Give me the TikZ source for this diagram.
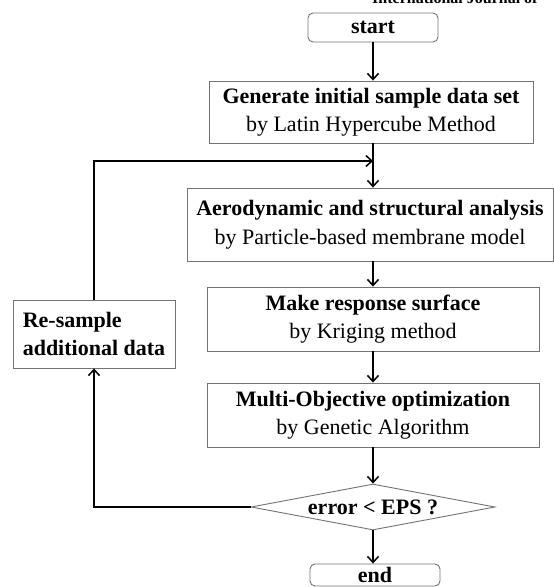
\documentclass[tikz,border=0pt]{standalone}
\usepackage{fontspec}
\setmainfont{Liberation Serif}
\usetikzlibrary{shapes.geometric,arrows.meta}
\begin{document}
\begin{tikzpicture}[x=1pt,y=-1pt,
  box/.style={draw=black!55,line width=0.9pt,fill=white,align=center,inner sep=0pt,font=\fontsize{22}{28.5}\selectfont},
  term/.style={box,rounded corners=5pt},
  decision/.style={box,diamond,aspect=5.3},
  flow/.style={line width=1.7pt,-{Straight Barb[length=6pt,width=11pt,line width=1.5pt]}},
  header/.style={font=\fontsize{16}{18}\selectfont\bfseries,anchor=base west,inner sep=0pt}
]
\clip (0,0) rectangle (554,587);
\useasboundingbox (0,0) rectangle (554,587);

\node[header] (hdr) at (372,3) {International Journal of};

\node[term,minimum width=130pt,minimum height=29pt] (start) at (373,27.5) {\textbf{start}};
\node[box,minimum width=324pt,minimum height=62pt] (gen) at (371,112)
  {\textbf{Generate initial sample data set}\\by Latin Hypercube Method};
\node[box,minimum width=366pt,minimum height=73pt] (aero) at (370,224.5)
  {\textbf{Aerodynamic and structural analysis}\\by Particle-based membrane model};
\node[box,minimum width=332pt,minimum height=64pt] (make) at (373,319)
  {\textbf{Make response surface}\\by Kriging method};
\node[box,minimum width=332pt,minimum height=64pt] (multi) at (373,415)
  {\textbf{Multi-Objective optimization}\\by Genetic Algorithm};
\node[decision,minimum width=244pt,minimum height=46pt] (dec) at (373,507)
  {\textbf{error < EPS ?}};
\node[term,minimum width=130pt,minimum height=22pt] (end) at (375,575) {\textbf{end}};
\node[box,align=left,minimum width=162pt,minimum height=68pt] (res) at (94,334)
  {\textbf{Re-sample}\\\textbf{additional data}};

\coordinate (join) at (373,161);

\draw[flow] (start.south -| 373,0) -- (gen.north -| 373,0);
\draw[flow] (gen.south -| 373,0) -- (aero.north -| 373,0);
\draw[flow] (aero.south -| 373,0) -- (make.north);
\draw[flow] (make.south) -- (multi.north);
\draw[flow] (multi.south) -- (dec.north);
\draw[flow] (dec.south) -- (end.north -| dec.south);
\draw[flow] (dec.west) -| (res.south);
\draw[flow] (res.north) |- (join);
\end{tikzpicture}
\end{document}
